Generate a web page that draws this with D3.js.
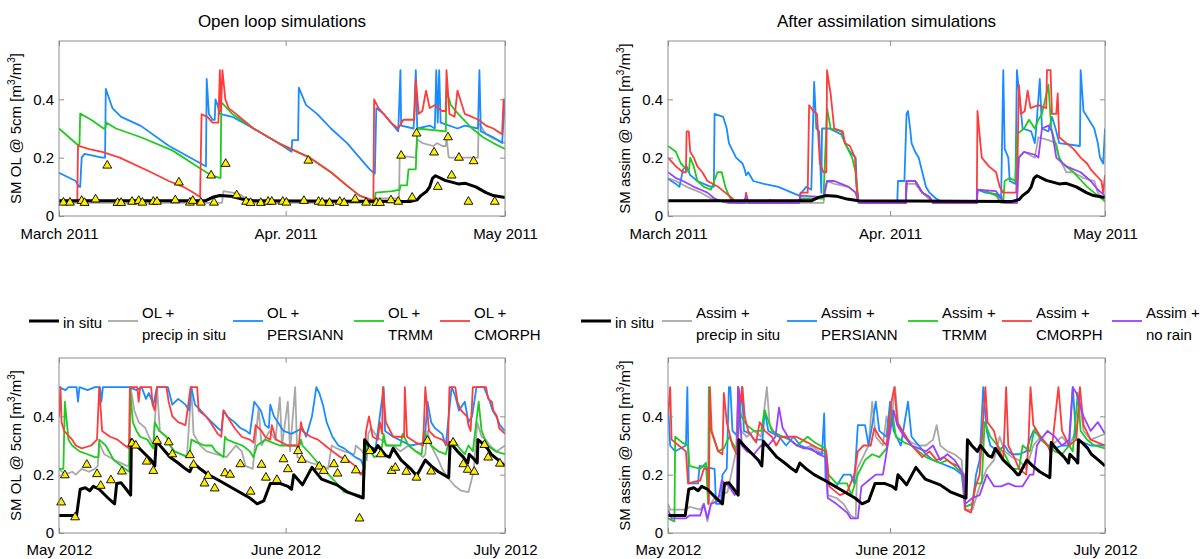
<!DOCTYPE html>
<html>
<head>
<meta charset="utf-8">
<script src="https://cdn.jsdelivr.net/npm/d3@7"></script>
<style>
  body { margin: 0; background: #fff; }
  svg { display: block; font-family: "Liberation Sans", Arial, Helvetica, sans-serif; }
</style>
</head>
<body>
<svg id="chart" width="1203" height="559"></svg>
<script>
// ---- data: [day offset from period start, soil moisture m3/m3] ----
const topStart = Date.UTC(2011, 2, 1);
const bottomStart = Date.UTC(2012, 4, 1);
const periodDays = 61;
const topTickLabels = ["March 2011", "Apr. 2011", "May 2011"];
const bottomTickLabels = ["May 2012", "June 2012", "July 2012"];
const tickDays = [0, 31, 61];
const yTicks = [0, 0.2, 0.4];
const yTickLabels = ["0", "0.2", "0.4"];

const insitu2011 = [[0,0.052],[20,0.052],[21,0.064],[22,0.07],[23.5,0.068],[25,0.058],[26.6,0.052],[48,0.05],[49,0.056],[49.5,0.07],[50.3,0.085],[50.7,0.1],[51.1,0.13],[51.5,0.138],[52.8,0.122],[54.6,0.11],[55.6,0.112],[57,0.1],[58.4,0.08],[59.4,0.07],[61,0.063]];

const olPrecip2011 = [[0,0.045],[22.3,0.045],[22.5,0.085],[23.7,0.08],[24.7,0.075],[25.6,0.06],[26.6,0.045],[42.7,0.045],[43.4,0.06],[46.5,0.06],[46.6,0.207],[48.8,0.2],[49,0.263],[49.7,0.25],[51.2,0.24],[51.7,0.25],[52.4,0.24],[52.9,0.24],[53,0.27],[53.3,0.2],[57.3,0.2],[57.4,0.32],[58.4,0.28],[59.4,0.265],[61,0.25]];
const olPersiann2011 = [[0,0.148],[2.3,0.12],[2.75,0.1],[2.9,0.1],[3.1,0.2],[3.5,0.213],[5.9,0.2],[6.3,0.2],[6.4,0.436],[7.3,0.37],[8.5,0.34],[11.2,0.309],[15,0.241],[19.4,0.18],[20.1,0.17],[20.2,0.47],[20.5,0.35],[21,0.33],[21.3,0.33],[21.4,0.4],[21.7,0.38],[22,0.35],[23.7,0.34],[26.6,0.3],[30,0.25],[31.8,0.22],[31.9,0.26],[32.7,0.26],[32.8,0.44],[33.8,0.38],[35.3,0.35],[37.2,0.3],[39.4,0.25],[41.1,0.2],[42.5,0.16],[43.2,0.145],[43.4,0.37],[44.4,0.35],[45.4,0.32],[46.4,0.29],[46.7,0.5],[46.8,0.31],[48.5,0.3],[48.8,0.5],[49,0.3],[50.7,0.31],[51.4,0.3],[51.6,0.5],[51.8,0.32],[52,0.5],[52.2,0.32],[54.5,0.3],[55.5,0.31],[57.3,0.3],[57.5,0.5],[57.7,0.29],[59.4,0.27],[60.6,0.25],[61,0.4]];
const olTrmm2011 = [[0,0.3],[2.5,0.245],[2.8,0.245],[2.9,0.351],[4.4,0.33],[6.1,0.3],[6.3,0.3],[6.5,0.32],[7.8,0.3],[11.2,0.27],[15.5,0.225],[18.9,0.17],[20.8,0.14],[22.1,0.13],[22.2,0.39],[23.7,0.35],[26.6,0.3],[30,0.25],[34.3,0.2],[37.2,0.15],[39.6,0.1],[41.1,0.07],[42.7,0.055],[43.2,0.055],[43.3,0.08],[45.6,0.085],[46.6,0.09],[46.7,0.105],[47.6,0.105],[47.8,0.16],[48.8,0.16],[49,0.3],[52.9,0.29],[53,0.43],[53.6,0.38],[54.6,0.35],[56.5,0.3],[58,0.27],[59.4,0.25],[61,0.23]];
const olCmorph2011 = [[0,0.05],[2.5,0.05],[2.6,0.241],[4,0.23],[5.9,0.22],[8.3,0.2],[12.6,0.15],[15,0.12],[17,0.1],[18.4,0.08],[19.3,0.065],[19.5,0.349],[20.3,0.34],[21,0.32],[21.8,0.32],[22,0.5],[22.15,0.36],[22.35,0.5],[22.75,0.4],[23.2,0.37],[24.2,0.35],[26.6,0.3],[30,0.25],[34.3,0.2],[37.2,0.15],[39.6,0.1],[41.1,0.07],[42.7,0.055],[43,0.055],[43.1,0.4],[43.7,0.37],[44.4,0.35],[45.4,0.32],[46.4,0.3],[47.1,0.33],[48.6,0.33],[48.8,0.468],[49.2,0.35],[49.7,0.36],[50.2,0.43],[50.7,0.37],[51.4,0.38],[52.4,0.36],[52.9,0.36],[53,0.5],[53.4,0.35],[54.1,0.34],[54.5,0.43],[55.5,0.35],[57.4,0.33],[58.4,0.31],[59.4,0.3],[60.6,0.28],[60.8,0.4],[61,0.4]];
const obs2011 = [[0.6,0.046],[1.5,0.046],[3.1,0.052],[3.5,0.045],[5.0,0.057],[6.6,0.173],[8.0,0.045],[8.5,0.045],[10.0,0.049],[10.9,0.052],[11.4,0.046],[12.9,0.049],[13.4,0.049],[15.9,0.054],[16.4,0.115],[17.9,0.046],[18.3,0.052],[19.4,0.046],[20.8,0.139],[21.2,0.046],[22.8,0.179],[24.3,0.071],[25.6,0.049],[26.2,0.045],[27.6,0.045],[28.6,0.049],[29.1,0.049],[30.6,0.049],[31.1,0.046],[33.5,0.052],[34.1,0.19],[35.5,0.049],[36.0,0.046],[37.0,0.045],[38.4,0.049],[39.0,0.045],[40.5,0.057],[42.0,0.046],[43.4,0.045],[43.9,0.045],[45.4,0.054],[46.4,0.049],[46.8,0.207],[48.3,0.063],[48.9,0.283],[51.3,0.218],[51.8,0.1],[53.2,0.27],[53.7,0.139],[54.7,0.2],[56.0,0.049],[56.7,0.188],[59.6,0.049]];

const asPrecip2011 = [[0,0.13],[1.1,0.12],[2.6,0.1],[4.6,0.08],[6,0.06],[7.5,0.05],[8.5,0.045],[21.7,0.045],[22.2,0.12],[23.2,0.11],[25.2,0.1],[26.2,0.08],[26.6,0.045],[33.2,0.045],[33.3,0.11],[34.5,0.11],[35.5,0.08],[37,0.045],[43.1,0.045],[43.2,0.09],[46.5,0.07],[46.8,0.045],[48.7,0.045],[48.97,0.2],[49.7,0.22],[51.2,0.2],[51.7,0.27],[53.1,0.26],[54.2,0.25],[54.6,0.2],[55.6,0.15],[56.6,0.15],[58,0.13],[59.5,0.12],[60,0.08],[61,0.05]];
const asPersiann2011 = [[0,0.128],[1.1,0.11],[1.6,0.1],[2.1,0.16],[2.6,0.17],[3.1,0.14],[4.1,0.12],[5,0.11],[6,0.1],[6.4,0.1],[6.5,0.35],[7.7,0.34],[8.2,0.3],[8.5,0.25],[9.5,0.2],[10.4,0.18],[10.7,0.16],[10.9,0.14],[11.2,0.15],[11.9,0.12],[13.4,0.11],[15.4,0.1],[17.3,0.08],[18.3,0.07],[19.3,0.1],[20,0.09],[20.4,0.46],[20.7,0.3],[21.1,0.29],[21.4,0.08],[21.5,0.3],[22.5,0.3],[24.2,0.28],[24.7,0.25],[25.4,0.22],[26.2,0.2],[26.4,0.08],[26.6,0.05],[27.6,0.045],[32,0.045],[32.1,0.12],[33,0.12],[33.3,0.35],[33.5,0.36],[33.8,0.3],[34,0.25],[34.5,0.22],[35,0.2],[35.5,0.15],[36,0.1],[36.5,0.08],[37.4,0.06],[38.4,0.045],[43.1,0.045],[43.2,0.09],[44.3,0.08],[45.8,0.075],[46.5,0.06],[46.8,0.5],[47,0.23],[47.5,0.2],[47.7,0.12],[48.5,0.11],[48.7,0.5],[49.5,0.3],[50.7,0.29],[51.2,0.25],[51.4,0.3],[51.9,0.47],[52.2,0.3],[53.1,0.29],[53.6,0.34],[54.1,0.3],[54.6,0.25],[57.5,0.24],[57.6,0.5],[58,0.36],[58.5,0.34],[59.5,0.3],[60,0.25],[60.3,0.2],[60.75,0.18],[61,0.3]];
const asTrmm2011 = [[0,0.24],[1.1,0.22],[1.8,0.18],[2.6,0.16],[2.9,0.15],[3.1,0.2],[3.6,0.17],[4.1,0.12],[5,0.1],[6,0.09],[6.9,0.15],[7.5,0.15],[8,0.1],[8.5,0.07],[9,0.05],[9.5,0.045],[18.3,0.045],[18.6,0.06],[21.7,0.06],[22.2,0.37],[22.7,0.3],[24.2,0.29],[24.7,0.25],[25.7,0.2],[26.2,0.15],[26.6,0.05],[27.2,0.045],[33.2,0.045],[33.3,0.12],[34.5,0.12],[35,0.1],[35.5,0.08],[36.5,0.065],[37,0.045],[43.1,0.045],[43.2,0.09],[44.3,0.085],[45.8,0.07],[46.5,0.045],[46.8,0.05],[47,0.12],[47.7,0.13],[48.5,0.12],[48.7,0.28],[49.7,0.3],[50.4,0.33],[51.2,0.3],[51.7,0.33],[52.2,0.35],[53.1,0.45],[53.5,0.3],[54.6,0.2],[55.1,0.18],[56.6,0.15],[58.5,0.1],[60,0.07],[61,0.05]];
const asCmorph2011 = [[0,0.2],[1.1,0.17],[2.1,0.15],[2.5,0.15],[2.6,0.29],[2.9,0.29],[3.1,0.22],[3.6,0.2],[4.1,0.17],[4.8,0.15],[5.5,0.12],[7,0.1],[8,0.08],[9,0.06],[9.5,0.045],[10.7,0.045],[10.9,0.08],[11.2,0.045],[13.9,0.045],[14.2,0.055],[14.6,0.045],[18.3,0.045],[18.5,0.08],[19.5,0.08],[19.7,0.38],[20.3,0.36],[20.8,0.35],[21.2,0.18],[21.7,0.15],[22.1,0.15],[22.2,0.5],[22.5,0.45],[22.7,0.42],[23.2,0.3],[24.4,0.29],[24.7,0.25],[25.4,0.24],[26.1,0.2],[26.3,0.1],[26.6,0.05],[27,0.045],[33.2,0.045],[33.3,0.12],[34.5,0.12],[35,0.1],[35.5,0.08],[36.5,0.065],[37,0.045],[43.1,0.045],[43.2,0.36],[43.6,0.25],[43.8,0.2],[44.8,0.17],[45.8,0.15],[46.3,0.1],[46.8,0.08],[48.6,0.08],[48.8,0.2],[48.97,0.45],[49.3,0.35],[49.8,0.36],[50.2,0.43],[50.6,0.37],[51.7,0.38],[52.8,0.37],[52.9,0.5],[53.4,0.5],[53.6,0.35],[54.2,0.35],[54.4,0.42],[54.6,0.27],[55.6,0.25],[56.6,0.23],[57.6,0.2],[58.5,0.18],[59,0.16],[60.5,0.12],[60.75,0.08],[61,0.14]];
const asNoRain2011 = [[0,0.15],[1.1,0.13],[2.1,0.12],[3.6,0.1],[4.6,0.09],[5.5,0.08],[6.5,0.06],[7.5,0.05],[8.5,0.045],[10.7,0.045],[10.9,0.07],[11.2,0.045],[18.3,0.045],[18.5,0.07],[21.7,0.065],[22.2,0.12],[23.2,0.12],[24.2,0.11],[25.2,0.1],[26.2,0.08],[26.6,0.045],[33.2,0.045],[33.3,0.12],[34.5,0.12],[35,0.1],[35.5,0.08],[36.5,0.065],[37,0.045],[43.1,0.045],[43.2,0.09],[45.8,0.085],[46.5,0.06],[46.8,0.045],[48.7,0.045],[48.97,0.2],[49.7,0.22],[51.2,0.21],[51.7,0.2],[52.2,0.3],[53.1,0.31],[53.6,0.29],[54.2,0.2],[55.6,0.17],[57.6,0.15],[59,0.12],[60,0.09],[61,0.07]];

const insitu2012 = [[0,0.06],[2.4,0.06],[2.9,0.15],[3.6,0.155],[4.2,0.145],[4.7,0.16],[5.5,0.15],[6.7,0.12],[7.6,0.1],[7.9,0.17],[8.5,0.172],[9.2,0.15],[9.8,0.13],[9.9,0.32],[10.6,0.3],[11.8,0.27],[12.6,0.25],[13.1,0.23],[13.3,0.315],[14.5,0.28],[15.2,0.26],[16.3,0.24],[17.3,0.22],[17.9,0.21],[18.4,0.24],[19.3,0.22],[20.4,0.2],[21.9,0.18],[24,0.15],[26.1,0.12],[27.1,0.1],[28,0.11],[28.9,0.17],[30.2,0.17],[31.3,0.16],[31.8,0.15],[32.1,0.2],[32.8,0.18],[33.3,0.165],[34.6,0.225],[35.4,0.2],[35.9,0.185],[36.9,0.175],[38,0.165],[39.5,0.14],[41.6,0.12],[41.8,0.32],[42.4,0.3],[43.2,0.28],[43.6,0.3],[44.7,0.265],[45.2,0.26],[45.7,0.29],[46.8,0.25],[48.1,0.22],[48.8,0.2],[49,0.2],[50.1,0.25],[50.9,0.23],[51.9,0.21],[53.3,0.19],[53.5,0.31],[54.5,0.28],[55.3,0.26],[55.9,0.24],[56.1,0.27],[56.9,0.25],[57.2,0.24],[57.3,0.32],[57.8,0.31],[58.6,0.29],[59.1,0.27],[60.1,0.25],[61,0.23]];

const olPrecip2012 = [[0,0.22],[0.8,0.2],[1.8,0.21],[2.3,0.2],[3.1,0.22],[4.1,0.21],[4.9,0.22],[5.3,0.23],[5.5,0.31],[6.2,0.27],[7.6,0.25],[9.3,0.23],[9.6,0.23],[9.8,0.5],[10.3,0.42],[10.9,0.38],[11.8,0.36],[12.3,0.33],[12.9,0.3],[13.4,0.5],[13.8,0.35],[14.7,0.33],[15.2,0.3],[15.7,0.28],[16.6,0.27],[17.5,0.26],[18.1,0.5],[18.4,0.34],[19.3,0.3],[20.2,0.28],[21.5,0.27],[22.9,0.26],[24.2,0.3],[25,0.28],[25.5,0.23],[26.5,0.22],[27.3,0.43],[27.7,0.3],[28.8,0.35],[29.6,0.32],[30.2,0.465],[30.5,0.3],[31.3,0.45],[31.6,0.28],[32.3,0.5],[32.6,0.26],[33.6,0.25],[34.5,0.24],[35.9,0.23],[36.8,0.22],[37.3,0.3],[38,0.29],[39,0.28],[40.4,0.27],[40.6,0.3],[41.5,0.28],[42.1,0.25],[42.3,0.34],[42.7,0.36],[43.5,0.33],[44,0.32],[45,0.3],[45.7,0.3],[46.7,0.28],[47.8,0.3],[48.8,0.28],[49.8,0.26],[50.1,0.27],[50.4,0.35],[50.9,0.3],[51.9,0.25],[52.4,0.22],[52.9,0.2],[53.5,0.18],[54.2,0.16],[55,0.145],[56,0.14],[56.6,0.2],[56.8,0.24],[57.2,0.38],[57.8,0.33],[58.4,0.32],[58.9,0.3],[59.9,0.28],[61,0.3]];
const olPersiann2012 = [[0,0.5],[0.9,0.49],[1.3,0.5],[2.4,0.5],[2.6,0.45],[2.8,0.5],[3.9,0.49],[4.9,0.5],[5.6,0.5],[5.8,0.45],[6,0.5],[9.6,0.5],[10.6,0.49],[11.3,0.5],[11.9,0.46],[12.3,0.48],[12.9,0.44],[13.4,0.5],[14.9,0.5],[15.5,0.44],[16.3,0.46],[17.3,0.44],[17.8,0.42],[18.1,0.5],[18.6,0.44],[19.4,0.42],[20.1,0.4],[20.9,0.38],[21.7,0.36],[22.2,0.35],[22.5,0.42],[23,0.4],[24,0.38],[24.8,0.36],[25.6,0.35],[26.1,0.34],[26.7,0.45],[27.6,0.42],[28.2,0.37],[28.7,0.36],[28.9,0.44],[29.4,0.4],[30.7,0.35],[31.8,0.34],[33.3,0.36],[33.8,0.33],[34.6,0.4],[35.2,0.5],[35.6,0.48],[36.1,0.44],[36.6,0.38],[37.4,0.33],[38.2,0.3],[39,0.29],[40.5,0.26],[41.3,0.25],[41.8,0.22],[42.1,0.3],[43.3,0.29],[44.4,0.5],[44.6,0.35],[45.7,0.33],[47.3,0.31],[48.1,0.3],[50,0.31],[50.4,0.45],[50.9,0.38],[51.4,0.36],[52.4,0.34],[52.9,0.3],[53.7,0.5],[54.2,0.47],[54.7,0.42],[55.5,0.45],[56,0.38],[56.5,0.4],[57.1,0.5],[58.1,0.5],[58.8,0.46],[59.3,0.42],[59.8,0.4],[60.3,0.37],[61,0.35]];
const olTrmm2012 = [[0,0.22],[0.6,0.22],[0.8,0.45],[1.3,0.32],[1.8,0.3],[2.8,0.28],[3.9,0.27],[4.9,0.26],[5.4,0.26],[5.5,0.32],[6.4,0.3],[7.5,0.25],[8.5,0.23],[9.6,0.21],[9.7,0.5],[10.1,0.38],[10.6,0.35],[11.1,0.33],[12.1,0.32],[12.6,0.3],[12.9,0.29],[13.1,0.38],[13.7,0.35],[14.7,0.33],[15.2,0.3],[15.8,0.28],[16.8,0.27],[17.8,0.26],[18.1,0.32],[18.9,0.31],[19.9,0.3],[20.9,0.3],[21.4,0.28],[22,0.27],[22.5,0.26],[22.7,0.33],[23,0.32],[24,0.31],[25.1,0.3],[26.1,0.28],[26.6,0.26],[27.1,0.3],[28.2,0.32],[29.2,0.31],[30.2,0.3],[31.3,0.3],[32.3,0.3],[32.8,0.29],[33.1,0.32],[33.3,0.3],[34.4,0.27],[35.4,0.24],[36.2,0.22],[36.9,0.2],[38,0.17],[39,0.14],[41.1,0.13],[41.6,0.12],[42,0.3],[42.6,0.28],[43.1,0.26],[43.9,0.27],[44.2,0.3],[44.4,0.34],[44.7,0.3],[46.7,0.3],[47,0.34],[47.8,0.3],[48.8,0.28],[49.6,0.27],[49.9,0.35],[50.9,0.3],[51.9,0.28],[52.9,0.27],[53.2,0.3],[54,0.32],[54.8,0.29],[55.5,0.27],[56,0.3],[56.6,0.28],[57.4,0.45],[57.8,0.35],[58.6,0.3],[59.7,0.28],[61,0.27]];
const olCmorph2012 = [[0,0.4],[0.2,0.5],[0.35,0.38],[0.7,0.35],[1.8,0.32],[2.3,0.3],[3.1,0.29],[4.4,0.3],[5.2,0.32],[5.5,0.5],[5.9,0.35],[7,0.33],[8,0.32],[9,0.3],[9.6,0.29],[9.7,0.5],[10.7,0.5],[10.9,0.45],[11.1,0.5],[12.6,0.5],[12.8,0.44],[13.1,0.42],[13.4,0.5],[14.7,0.5],[15,0.45],[15.5,0.4],[16.3,0.38],[17.3,0.37],[18,0.5],[18.9,0.5],[19.1,0.42],[20.1,0.4],[20.7,0.38],[21.2,0.36],[21.7,0.34],[22.2,0.33],[22.5,0.42],[23,0.4],[24,0.36],[25,0.33],[26.1,0.32],[26.6,0.31],[26.9,0.37],[27.7,0.35],[28.2,0.33],[28.9,0.32],[29.1,0.37],[29.7,0.32],[31.3,0.3],[32.8,0.3],[33.1,0.38],[33.3,0.35],[34.4,0.33],[35.4,0.32],[36.4,0.3],[37.4,0.28],[38.5,0.26],[39.5,0.25],[40.5,0.23],[41.3,0.2],[41.7,0.22],[42,0.35],[42.4,0.4],[42.9,0.33],[43.6,0.32],[43.9,0.38],[44.2,0.34],[44.3,0.5],[44.7,0.38],[45.7,0.33],[47.2,0.33],[47.3,0.5],[47.6,0.33],[48.8,0.31],[49.8,0.3],[50.1,0.5],[50.6,0.35],[51.4,0.33],[52.4,0.32],[53.2,0.3],[53.4,0.5],[54.2,0.5],[54.5,0.45],[55,0.42],[55.8,0.4],[56,0.37],[56.3,0.35],[56.6,0.5],[58.4,0.5],[58.7,0.46],[59.2,0.45],[59.4,0.42],[59.9,0.4],[60.2,0.36],[61,0.34]];
const obs2012 = [[0.3,0.105],[0.8,0.198],[2.2,0.054],[3.8,0.234],[5.2,0.202],[5.7,0.162],[7.1,0.181],[8.6,0.211],[10.0,0.307],[10.5,0.3],[12.0,0.245],[12.9,0.213],[13.4,0.316],[15.0,0.311],[15.5,0.27],[17.9,0.267],[18.4,0.234],[19.9,0.17],[20.4,0.196],[21.3,0.153],[22.7,0.205],[23.4,0.2],[24.8,0.236],[26.2,0.142],[27.7,0.234],[28.3,0.19],[29.8,0.182],[30.7,0.253],[31.3,0.219],[32.7,0.281],[33.2,0.251],[35.6,0.228],[36.2,0.213],[37.6,0.236],[38.1,0.204],[39.1,0.251],[40.6,0.215],[41.1,0.05],[42.5,0.281],[44.0,0.27],[45.5,0.213],[46.0,0.224],[47.5,0.21],[48.9,0.19],[50.4,0.316],[50.9,0.211],[53.9,0.31],[55.3,0.236],[55.9,0.217],[56.8,0.21],[58.2,0.302],[58.7,0.259],[60.3,0.238]];

const asPrecip2012 = [[0,0.1],[0.3,0.08],[2.5,0.08],[3,0.09],[4.5,0.08],[5,0.1],[5.5,0.04],[6,0.1],[6.5,0.12],[8.3,0.14],[9.5,0.28],[9.8,0.5],[10.2,0.35],[11,0.33],[12,0.35],[13,0.33],[13.8,0.5],[14.2,0.37],[15,0.34],[16,0.33],[17,0.32],[18,0.3],[19,0.29],[20,0.3],[21,0.28],[22,0.27],[22.3,0.13],[23.5,0.12],[24.5,0.1],[25.5,0.06],[26.2,0.05],[26.4,0.22],[27,0.25],[28,0.3],[28.5,0.45],[29,0.33],[30,0.3],[30.5,0.4],[31,0.34],[31.7,0.5],[32.2,0.36],[33,0.33],[34,0.31],[35,0.3],[36,0.3],[37,0.32],[37.5,0.37],[38,0.3],[39,0.28],[40,0.27],[41,0.25],[41.4,0.08],[42.5,0.08],[43.5,0.16],[44.5,0.22],[45.5,0.25],[46.3,0.33],[47,0.28],[48,0.26],[49,0.25],[50,0.22],[51,0.3],[52,0.33],[53,0.3],[54,0.31],[55,0.33],[56,0.3],[57,0.35],[57.5,0.45],[58,0.35],[59,0.32],[60,0.33],[61,0.34]];
const asPersiann2012 = [[0,0.45],[0.3,0.3],[1,0.28],[2.5,0.3],[2.7,0.5],[2.9,0.17],[4.2,0.17],[4.4,0.23],[6.5,0.22],[6.7,0.1],[7.4,0.1],[7.6,0.2],[8.2,0.22],[8.5,0.5],[8.7,0.5],[9,0.35],[9.8,0.33],[10.3,0.5],[10.6,0.35],[11.5,0.34],[12,0.32],[13.2,0.32],[13.5,0.42],[14,0.35],[15.5,0.33],[16.5,0.3],[17.5,0.33],[18.5,0.3],[19.5,0.29],[20.5,0.28],[21.5,0.27],[21.8,0.41],[22,0.18],[23.5,0.16],[24.5,0.2],[25.5,0.2],[26,0.17],[26.5,0.37],[27.5,0.37],[28,0.3],[28.5,0.37],[29,0.45],[29.5,0.35],[30.5,0.33],[31,0.45],[31.5,0.35],[32.5,0.3],[33.5,0.45],[34,0.33],[35,0.3],[36,0.27],[37,0.25],[38,0.24],[39,0.23],[40,0.22],[41,0.2],[41.5,0.09],[42.5,0.1],[43,0.2],[43.5,0.25],[44,0.5],[44.5,0.35],[45,0.3],[46,0.28],[47,0.3],[47.5,0.28],[48,0.27],[49,0.27],[50,0.28],[50.5,0.32],[51,0.35],[52,0.33],[53,0.3],[54,0.29],[55,0.3],[56,0.3],[56.5,0.5],[57,0.32],[58,0.31],[59,0.3],[60,0.3],[61,0.3]];
const asTrmm2012 = [[0,0.05],[0.9,0.04],[1,0.33],[2,0.31],[2.8,0.3],[3,0.23],[4.5,0.22],[5.3,0.24],[5.6,0.1],[5.7,0.5],[6,0.35],[7,0.28],[7.8,0.29],[8.5,0.33],[9.7,0.28],[9.8,0.5],[10.2,0.4],[11,0.37],[12,0.35],[13,0.35],[13.5,0.42],[14.5,0.35],[16,0.33],[17,0.32],[18,0.3],[19.5,0.33],[20.5,0.31],[22,0.29],[22.4,0.2],[23.5,0.17],[25,0.17],[25.6,0.13],[26.5,0.2],[27.5,0.25],[28.5,0.27],[29.5,0.26],[30.5,0.29],[31.3,0.42],[31.8,0.33],[33,0.31],[34,0.3],[35,0.28],[36,0.26],[37,0.25],[38,0.24],[39,0.25],[40,0.23],[41.2,0.2],[41.5,0.09],[42.5,0.1],[43,0.17],[43.8,0.17],[44.2,0.38],[45,0.33],[46,0.3],[47,0.27],[48,0.22],[49,0.22],[49.5,0.3],[50.5,0.28],[51.2,0.36],[52,0.32],[53,0.3],[54,0.28],[55,0.27],[56,0.3],[56.5,0.28],[57.2,0.48],[57.6,0.35],[58.5,0.32],[59.5,0.3],[61,0.29]];
const asCmorph2012 = [[0,0.4],[0.3,0.5],[0.5,0.32],[1.5,0.3],[2.5,0.28],[2.8,0.17],[4.5,0.18],[5,0.22],[5.6,0.22],[5.7,0.1],[5.85,0.5],[6.1,0.35],[7,0.28],[7.6,0.27],[7.8,0.48],[8.2,0.38],[9,0.3],[9.6,0.27],[9.8,0.5],[10.2,0.45],[10.4,0.5],[10.7,0.4],[11.2,0.35],[12.3,0.31],[12.8,0.38],[13.5,0.35],[14.5,0.33],[15.1,0.3],[15.8,0.33],[17.9,0.33],[19.5,0.31],[21,0.29],[22.1,0.28],[22.5,0.16],[24,0.13],[25,0.14],[26,0.2],[26.5,0.28],[27.3,0.3],[28.3,0.3],[28.8,0.36],[29.5,0.33],[30.5,0.3],[31.2,0.45],[31.6,0.5],[32,0.38],[33,0.34],[34,0.3],[35.5,0.26],[36.5,0.28],[37.5,0.25],[38.5,0.26],[39.5,0.24],[40.5,0.23],[41.2,0.2],[41.5,0.08],[42.3,0.07],[42.8,0.15],[43.5,0.2],[44.3,0.5],[44.6,0.38],[45.5,0.35],[46,0.3],[46.8,0.25],[47.2,0.5],[47.5,0.3],[48.5,0.25],[49,0.22],[50,0.2],[50.3,0.3],[50.6,0.5],[51,0.37],[52,0.33],[53,0.3],[53.5,0.27],[54.5,0.5],[55,0.35],[56,0.3],[57,0.32],[57.5,0.5],[58,0.37],[59,0.32],[60,0.31],[61,0.3]];
const asNoRain2012 = [[0,0.08],[0.5,0.05],[2.5,0.05],[3,0.06],[4.5,0.06],[5,0.1],[5.5,0.05],[6,0.1],[7,0.11],[7.5,0.18],[8.5,0.16],[9.3,0.13],[9.6,0.14],[9.8,0.5],[10.3,0.3],[11,0.28],[12,0.27],[13,0.3],[14,0.3],[15,0.33],[15.5,0.43],[16,0.36],[17,0.32],[18,0.3],[19,0.29],[20,0.29],[21,0.27],[22,0.26],[22.3,0.12],[23.5,0.1],[25,0.07],[25.5,0.05],[26.5,0.05],[27,0.16],[28,0.18],[29,0.2],[30,0.2],[31,0.35],[31.5,0.42],[32,0.37],[33,0.33],[34,0.3],[35,0.29],[36,0.28],[37,0.3],[38,0.25],[39,0.27],[40,0.25],[41.3,0.2],[41.5,0.1],[42.5,0.12],[43.5,0.13],[44.5,0.2],[45.5,0.16],[46.5,0.16],[47.5,0.17],[48.5,0.16],[49.5,0.16],[50.5,0.2],[51,0.2],[51.5,0.3],[52,0.32],[53,0.35],[54,0.33],[55,0.3],[56,0.32],[56.5,0.5],[57,0.48],[58,0.4],[59,0.35],[60,0.38],[61,0.34]];

const olLegend = [["in situ"], ["OL +", "precip in situ"], ["OL +", "PERSIANN"], ["OL +", "TRMM"], ["OL +", "CMORPH"]];
const asLegend = [["in situ"], ["Assim +", "precip in situ"], ["Assim +", "PERSIANN"], ["Assim +", "TRMM"], ["Assim +", "CMORPH"], ["Assim +", "no rain"]];

// ---- styles ----
const col = { insitu: "#000000", precip: "#a8a8a8", persiann: "#1a8cff", trmm: "#1ecb1e", cmorph: "#ff3b3b", norain: "#9b40ff" };
const frameColor = "#8c8c8c";
const DAY = 864e5;

const svg = d3.select("#chart");

const panels = [
  { x: 59, y: 41, w: 446, h: 175, start: topStart, tickLabels: topTickLabels, title: "Open loop simulations", ylab: "SM OL @ 5cm [m", pad: 12,
    lines: [[olPrecip2011, col.precip], [olPersiann2011, col.persiann], [olTrmm2011, col.trmm], [olCmorph2011, col.cmorph]],
    insitu: insitu2011, obs: obs2011 },
  { x: 668, y: 41, w: 437, h: 175, start: topStart, tickLabels: topTickLabels, title: "After assimilation simulations", ylab: "SM assim @ 5cm [m", pad: 12,
    lines: [[asPrecip2011, col.precip], [asPersiann2011, col.persiann], [asTrmm2011, col.trmm], [asCmorph2011, col.cmorph], [asNoRain2011, col.norain]],
    insitu: insitu2011, obs: null },
  { x: 59, y: 358, w: 446, h: 175, start: bottomStart, tickLabels: bottomTickLabels, title: null, ylab: "SM OL @ 5cm [m", pad: 11,
    lines: [[olPrecip2012, col.precip], [olPersiann2012, col.persiann], [olTrmm2012, col.trmm], [olCmorph2012, col.cmorph]],
    insitu: insitu2012, obs: obs2012 },
  { x: 668, y: 358, w: 437, h: 175, start: bottomStart, tickLabels: bottomTickLabels, title: null, ylab: "SM assim @ 5cm [m", pad: 11,
    lines: [[asPrecip2012, col.precip], [asPersiann2012, col.persiann], [asTrmm2012, col.trmm], [asCmorph2012, col.cmorph], [asNoRain2012, col.norain]],
    insitu: insitu2012, obs: null }
];

panels.forEach((p, idx) => {
  const t = d => new Date(p.start + d * DAY);
  const x = d3.scaleUtc().domain([t(0), t(periodDays)]).range([p.x, p.x + p.w]);
  const y = d3.scaleLinear().domain([0, 0.6]).range([p.y + p.h, p.y]);
  const g = svg.append("g");

  g.append("clipPath").attr("id", "clip" + idx)
    .append("rect").attr("x", p.x).attr("y", p.y).attr("width", p.w).attr("height", p.h);

  const plot = g.append("g").attr("clip-path", `url(#clip${idx})`);
  const line = d3.line().x(d => x(t(d[0]))).y(d => y(d[1]));

  p.lines.forEach(([data, color]) => {
    plot.append("path").attr("d", line(data))
      .attr("fill", "none").attr("stroke", color).attr("stroke-width", 1.8).attr("stroke-linejoin", "round");
  });
  plot.append("path").attr("d", line(p.insitu))
    .attr("fill", "none").attr("stroke", col.insitu).attr("stroke-width", 3).attr("stroke-linejoin", "round");

  if (p.obs) {
    const tri = d3.symbol(d3.symbolTriangle, 34);
    g.selectAll(null).data(p.obs).enter().append("path")
      .attr("d", tri)
      .attr("transform", d => `translate(${x(t(d[0]))},${y(d[1])})`)
      .attr("fill", "#ffee00").attr("stroke", "#000").attr("stroke-width", 0.9);
  }

  // axes: MATLAB-style box with inward ticks
  const tickDates = tickDays.map(t);
  const styleAxis = sel => {
    sel.select(".domain").remove();
    sel.selectAll(".tick line").attr("stroke", frameColor);
    sel.selectAll(".tick text").attr("fill", "#000").style("font-size", "15px");
  };
  g.append("g").attr("transform", `translate(0,${p.y + p.h})`)
    .call(d3.axisBottom(x).tickValues(tickDates).tickFormat((d, i) => p.tickLabels[i]).tickSizeInner(-5).tickSizeOuter(0).tickPadding(p.pad))
    .call(styleAxis);
  g.append("g").attr("transform", `translate(0,${p.y})`)
    .call(d3.axisTop(x).tickValues(tickDates).tickFormat("").tickSizeInner(-5).tickSizeOuter(0))
    .call(styleAxis);
  g.append("g").attr("transform", `translate(${p.x},0)`)
    .call(d3.axisLeft(y).tickValues(yTicks).tickFormat((d, i) => yTickLabels[i]).tickSizeInner(-5).tickSizeOuter(0).tickPadding(5))
    .call(styleAxis);
  g.append("g").attr("transform", `translate(${p.x + p.w},0)`)
    .call(d3.axisRight(y).tickValues(yTicks).tickFormat("").tickSizeInner(-5).tickSizeOuter(0))
    .call(styleAxis);

  g.append("rect").attr("x", p.x).attr("y", p.y).attr("width", p.w).attr("height", p.h)
    .attr("fill", "none").attr("stroke", frameColor).attr("stroke-width", 1);

  // y label with superscripts
  const cy = p.y + p.h / 2;
  const yl = g.append("text")
    .attr("transform", `translate(${p.x - 38},${cy}) rotate(-90)`)
    .attr("text-anchor", "middle").style("font-size", "15px").attr("fill", "#000");
  yl.append("tspan").text(p.ylab);
  yl.append("tspan").attr("dy", -6).style("font-size", "10px").text("3");
  yl.append("tspan").attr("dy", 6).text("/m");
  yl.append("tspan").attr("dy", -6).style("font-size", "10px").text("3");
  yl.append("tspan").attr("dy", 6).text("]");

  if (p.title) {
    g.append("text").attr("x", p.x + p.w / 2).attr("y", 27)
      .attr("text-anchor", "middle").style("font-size", "17px").attr("fill", "#000").text(p.title);
  }
});

// ---- legends ----
function legend(items, colors, starts) {
  const lineY = 321;
  items.forEach((lab, i) => {
    const x0 = starts[i];
    svg.append("line").attr("x1", x0).attr("x2", x0 + 30).attr("y1", lineY).attr("y2", lineY)
      .attr("stroke", colors[i]).attr("stroke-width", i === 0 ? 3 : 1.8);
    const txt = svg.append("text").attr("x", x0 + 34).style("font-size", "15px").attr("fill", "#000");
    if (lab.length === 1) {
      txt.attr("y", lineY + 7).text(lab[0]);
    } else {
      txt.append("tspan").attr("x", x0 + 34).attr("y", lineY - 3.5).text(lab[0]);
      txt.append("tspan").attr("x", x0 + 34).attr("y", lineY + 18.5).text(lab[1]);
    }
  });
}
legend(olLegend, [col.insitu, col.precip, col.persiann, col.trmm, col.cmorph], [29, 108, 233, 354, 440]);
legend(asLegend, [col.insitu, col.precip, col.persiann, col.trmm, col.cmorph, col.norain], [581, 662, 787, 908, 1002, 1112]);
</script>
</body>
</html>
